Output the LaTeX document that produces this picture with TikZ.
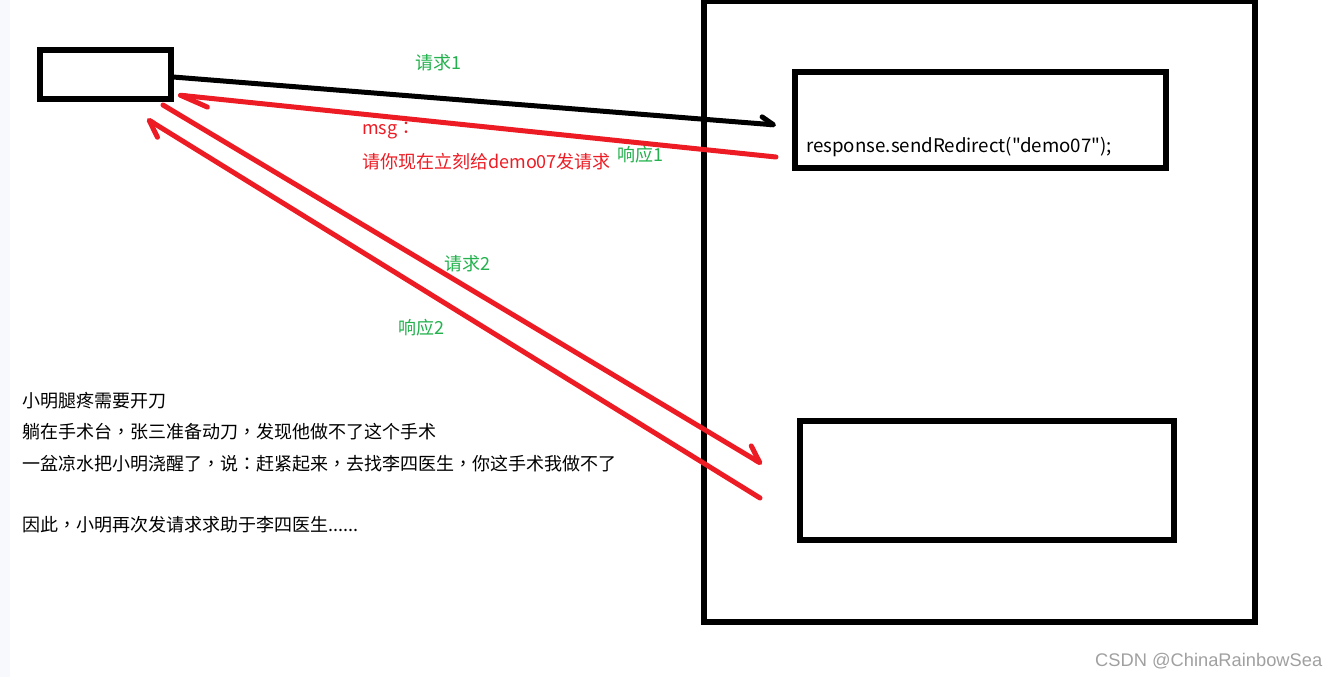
\documentclass[tikz,border=0pt]{standalone}
\usepackage{fontspec}
\setmainfont{Noto Sans CJK SC}[Ligatures=TeXOff]
\newfontfamily\punctfont{Noto Sans CJK TC}
\newfontfamily\markfont{Liberation Sans}
\newcommand{\fwcomma}{{\punctfont ，}}
\newcommand{\fwcolon}{{\punctfont ：}}
\usetikzlibrary{arrows.meta}
\definecolor{paintred}{RGB}{237,28,36}
\definecolor{paintgreen}{RGB}{34,177,76}
\definecolor{stripblue}{RGB}{247,249,253}
\definecolor{markgray}{RGB}{160,160,160}
\tikzset{
  box/.style={draw,line width=6pt,inner sep=0pt},
  txt/.style={inner sep=0pt,anchor=west,font=\fontsize{18}{21}\selectfont},
  stroke/.style={line width=5pt,line cap=round,
    -{Straight Barb[harpoon,round,length=16pt,width=20pt]}}
}
\begin{document}
\begin{tikzpicture}[x=1pt,y=-1pt]
  \useasboundingbox (0,0) rectangle (1339,677);
  \fill[stripblue] (0,0) rectangle (10,677);
  % browser and server
  \node[box,minimum width=131pt,minimum height=49pt] (browser) at (105.5,74.5) {};
  \node[box,minimum width=551pt,minimum height=620pt] (server) at (979.5,311.5) {};
  \node[box,minimum width=371pt,minimum height=95.5pt] (demo06) at (980.5,119.75) {};
  \node[box,minimum width=373.5pt,minimum height=119pt] (demo07) at (986.75,480.5) {};
  \node[txt,font=\fontsize{18.7}{21}\selectfont] (redirect) at (806,147) {response.sendRedirect("demo07");};
  % arrow ends
  \coordinate (req1a) at (173,77);
  \coordinate (req1b) at (776,125);
  \coordinate (resp1a) at (776,157);
  \coordinate (resp1b) at (178,95);
  \coordinate (req2a) at (163,105);
  \coordinate (req2b) at (762,464);
  \coordinate (resp2a) at (760,498);
  \coordinate (resp2b) at (147,119);
  \draw[stroke,-{Straight Barb[harpoon,round,length=12pt,width=14pt]}] (req1a) -- (req1b);
  \draw[stroke,paintred,-{Straight Barb[harpoon,round,length=28pt,width=18pt]}] (resp1a) -- (resp1b);
  \draw[stroke,paintred] (req2a) -- (req2b);
  \draw[stroke,paintred] (resp2a) -- (resp2b);
  % labels
  \node[txt,paintgreen] (req1) at (415,63) {请求1};
  \node[txt,paintred] (msg) at (362,131) {msg\fwcolon};
  \node[txt,paintred] (msgtext) at (362,162) {请你现在立刻给demo07发请求};
  \node[txt,paintgreen] (resp1) at (617,155) {响应1};
  \node[txt,paintgreen] (req2) at (444,264) {请求2};
  \node[txt,paintgreen] (resp2) at (398,328) {响应2};
  % story
  \node[txt] (story1) at (22,401) {小明腿疼需要开刀};
  \node[txt] (story2) at (22,432) {躺在手术台\fwcomma 张三准备动刀\fwcomma 发现他做不了这个手术};
  \node[txt] (story3) at (22,464) {一盆凉水把小明浇醒了\fwcomma 说\fwcolon 赶紧起来\fwcomma 去找李四医生\fwcomma 你这手术我做不了};
  \node[txt] (story4) at (22,525) {因此\fwcomma 小明再次发请求求助于李四医生......};
  \node[txt,markgray,font=\markfont\fontsize{18.3}{20}\selectfont] (mark) at (1095,661) {CSDN @ChinaRainbowSea};
\end{tikzpicture}
\end{document}
